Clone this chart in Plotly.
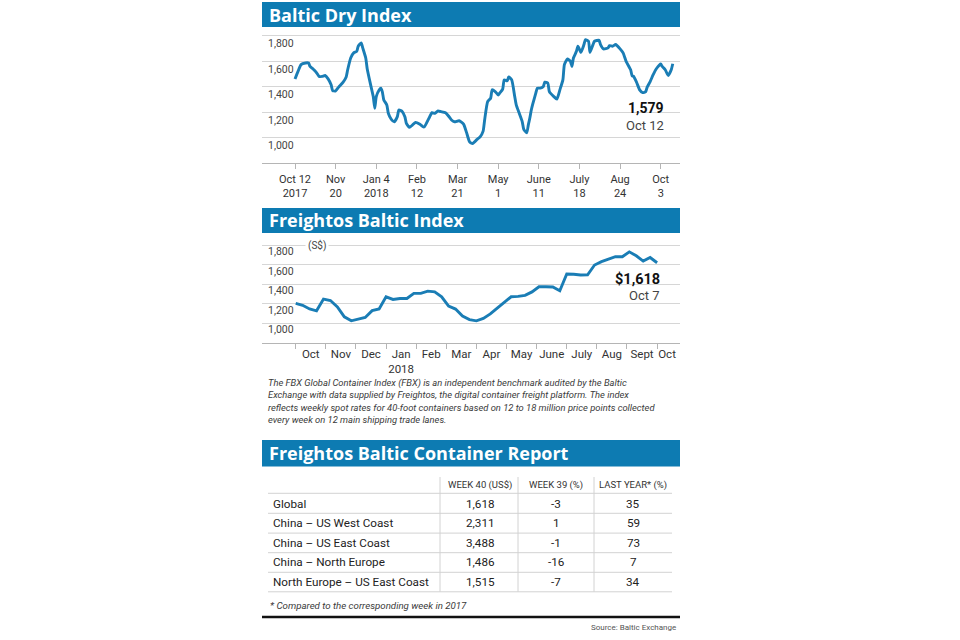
import plotly.graph_objects as go

W, H = 960, 640

# ---------------- Data ----------------
# Baltic Dry Index: trading-day index (0 = Oct 12 2017) and index value
bdi_day = [0, 2, 4, 7, 9, 10, 12, 14, 16, 18, 20, 22, 24, 25, 27, 29, 32, 34, 35, 37,
           39, 41, 42, 44, 45, 47, 48, 50, 52, 53, 54, 56, 57, 58, 59, 61, 62, 64, 66, 68,
           69, 71, 73, 74, 76, 78, 80, 83, 85, 86, 89, 91, 93, 95, 97, 100, 102, 104, 106, 109,
           112, 114, 116, 118, 121, 123, 125, 126, 128, 130, 131, 133, 135, 136, 138, 139, 141, 142, 144, 146,
           147, 149, 151, 152, 154, 155, 156, 157, 158, 160, 161, 163, 165, 166, 168, 169, 172, 174, 176, 178,
           179, 181, 183, 184, 185, 187, 188, 190, 192, 193, 195, 196, 198, 199, 202, 203, 205, 208, 209, 211,
           213, 214, 216, 218, 220, 223, 224, 225, 227, 229, 231, 233, 234, 236, 238, 240, 243, 244, 246, 248,
           250, 251]
bdi_value = [1459, 1519, 1572, 1585, 1585, 1558, 1538, 1514, 1480, 1480, 1487, 1461, 1414, 1369, 1367, 1396, 1435, 1475, 1532, 1624,
             1664, 1676, 1716, 1742, 1703, 1624, 1538, 1427, 1322, 1231, 1322, 1375, 1388, 1361, 1296, 1257, 1191, 1144, 1125, 1165,
             1217, 1209, 1165, 1113, 1081, 1099, 1120, 1105, 1086, 1086, 1152, 1196, 1191, 1209, 1204, 1196, 1170, 1139, 1125, 1133,
             1107, 1040, 968, 955, 987, 1007, 1052, 1139, 1283, 1309, 1375, 1361, 1335, 1349, 1380, 1453, 1446, 1475, 1453, 1322,
             1257, 1191, 1125, 1065, 1039, 1099, 1152, 1217, 1265, 1349, 1388, 1388, 1401, 1435, 1427, 1361, 1322, 1302, 1375, 1453,
             1572, 1617, 1598, 1558, 1624, 1676, 1716, 1668, 1729, 1768, 1755, 1668, 1729, 1755, 1763, 1729, 1695, 1703, 1721, 1716,
             1729, 1721, 1695, 1664, 1598, 1532, 1485, 1480, 1432, 1375, 1353, 1361, 1396, 1440, 1493, 1538, 1577, 1558, 1532, 1487,
             1532, 1579]
bdi_tick_day = [0, 27, 54, 81, 108, 135, 162, 189, 216, 243]
bdi_tick_text = ["Oct 12<br>2017", "Nov<br>20", "Jan 4<br>2018", "Feb<br>12", "Mar<br>21",
                 "May<br>1", "June<br>11", "July<br>18", "Aug<br>24", "Oct<br>3"]

# Freightos Baltic Index: weekly values, Oct 2017 - Oct 7 2018
fbx_value = [1202, 1183, 1145, 1126, 1246, 1232, 1167, 1065, 1024, 1040,
             1058, 1128, 1146, 1270, 1243, 1253, 1253, 1305, 1305, 1328,
             1321, 1270, 1174, 1144, 1072, 1036, 1024, 1048, 1095, 1155,
             1215, 1270, 1274, 1285, 1320, 1372, 1372, 1370, 1331, 1503,
             1500, 1493, 1495, 1595, 1629, 1654, 1680, 1680, 1730, 1690,
             1635, 1672, 1618]
fbx_month_text = ["Oct", "Nov", "Dec", "Jan<br>2018", "Feb", "Mar", "Apr", "May",
                  "June", "July", "Aug", "Sept", "Oct"]

y_ticks = [1000, 1200, 1400, 1600, 1800]

# Container report table
table_headers = ["WEEK 40 (US$)", "WEEK 39 (%)", "LAST YEAR* (%)"]
routes = ["Global", "China – US West Coast", "China – US East Coast",
          "China – North Europe", "North Europe – US East Coast"]
week40 = [1618, 2311, 3488, 1486, 1515]
week39 = [-3, 1, -1, -16, -7]
last_year = [35, 59, 73, 7, 34]

description = ["The FBX Global Container Index (FBX) is an independent benchmark audited by the Baltic",
               "Exchange with data supplied by Freightos, the digital container freight platform. The index",
               "reflects weekly spot rates for 40-foot containers based on 12 to 18 million price points collected",
               "every week on 12 main shipping trade lanes."]

# ---------------- Styling ----------------
BLUE_BAR = "#0d7bb2"
LINE = "#1a7db5"
GRID = "#d6d6d6"
AXIS = "#b5b5b5"
TXT = "#333333"
SANS = "Roboto, Liberation Sans, sans-serif"
HEAD = "Open Sans, Liberation Sans, sans-serif"

def X(px):
    return px / W

def Y(py):
    return 1 - py / H

L, R = 262, 680

# BDI geometry
bdi_bot, bdi_1800, bdi_top = 163.3, 35.5, 29
bdi_scale = (bdi_bot - bdi_1800) / 1000.0
bdi_ymax = 800 + (bdi_bot - bdi_top) / bdi_scale
bdi_x0px, bdi_pxday = 295.0, 1.505

# FBX geometry
fbx_bot, fbx_1800, fbx_top = 342.7, 245.0, 238
fbx_scale = (fbx_bot - fbx_1800) / 1000.0
fbx_ymax = 800 + (fbx_bot - fbx_top) / fbx_scale
fbx_x0px, fbx_pxweek = 295.7, 6.95
wpm = 52 / 12.0
fbx_weeks = list(range(len(fbx_value)))
month_bounds = [k * wpm for k in range(13)]
month_label_pos = [(k + 0.5) * wpm for k in range(12)] + [12.33 * wpm]

fig = go.Figure()

fig.add_trace(go.Scatter(x=bdi_day, y=bdi_value, mode="lines",
                         line=dict(color=LINE, width=2.9, shape="spline", smoothing=0.5),
                         xaxis="x", yaxis="y", hoverinfo="skip", showlegend=False))
fig.add_trace(go.Scatter(x=fbx_weeks, y=fbx_value, mode="lines",
                         line=dict(color=LINE, width=2.9),
                         xaxis="x2", yaxis="y2", hoverinfo="skip", showlegend=False))

ytick_common = dict(tickvals=y_ticks, showticklabels=False,
                    showgrid=True, gridcolor=GRID, gridwidth=1.3, zeroline=False,
                    showline=False, ticks="", fixedrange=True)

fig.update_layout(
    width=W, height=H, margin=dict(l=0, r=0, t=0, b=0),
    paper_bgcolor="white", plot_bgcolor="white", showlegend=False,
    xaxis=dict(domain=[X(L), X(R)], anchor="y",
               range=[(L - bdi_x0px) / bdi_pxday, (R - bdi_x0px) / bdi_pxday],
               tickvals=bdi_tick_day, ticktext=bdi_tick_text,
               ticks="outside", ticklen=5, tickcolor=AXIS, tickwidth=1.2,
               showline=True, linecolor=AXIS, linewidth=1.3, showgrid=False, zeroline=False,
               tickfont=dict(family=SANS, size=11, color=TXT), fixedrange=True),
    yaxis=dict(domain=[Y(bdi_bot), Y(bdi_top)], anchor="x", range=[800, bdi_ymax], **ytick_common),
    xaxis2=dict(domain=[X(L), X(R)], anchor="y2",
                range=[(L - fbx_x0px) / fbx_pxweek, (R - fbx_x0px) / fbx_pxweek],
                tickvals=month_label_pos, ticktext=fbx_month_text, ticks="",
                minor=dict(tickmode="array", tickvals=month_bounds, ticks="outside",
                           ticklen=5, tickcolor=AXIS, tickwidth=1.2, showgrid=False),
                showline=True, linecolor=AXIS, linewidth=1.3, showgrid=False, zeroline=False,
                tickfont=dict(family=SANS, size=11.5, color=TXT), fixedrange=True),
    yaxis2=dict(domain=[Y(fbx_bot), Y(fbx_top)], anchor="x2", range=[800, fbx_ymax], **ytick_common),
)

shapes = []
annotations = []

# y-axis labels, hanging just below their gridlines
for yref, shift in (("y", -8), ("y2", -6.5)):
    for v in y_ticks:
        annotations.append(dict(xref="paper", yref=yref, x=X(266), y=v, yshift=shift,
                                xanchor="left", yanchor="middle", showarrow=False,
                                text=f"{v:,}", font=dict(family=SANS, size=10.5, color="#444")))

def title_bar(y0, y1, text):
    shapes.append(dict(type="rect", xref="paper", yref="paper", x0=X(L), x1=X(R),
                       y0=Y(y1), y1=Y(y0), fillcolor=BLUE_BAR, line=dict(width=0), layer="below"))
    annotations.append(dict(xref="paper", yref="paper", x=X(267), y=Y((y0 + y1) / 2),
                            xanchor="left", yanchor="middle", showarrow=False,
                            text=f"<b>{text}</b>",
                            font=dict(family=HEAD, size=18, color="white")))

title_bar(2, 27, "Baltic Dry Index")
title_bar(208, 233, "Freightos Baltic Index")
title_bar(440, 466.5, "Freightos Baltic Container Report")

# Last-value callouts
annotations.append(dict(xref="paper", yref="paper", x=X(666), y=Y(108), xanchor="right",
                        yanchor="middle", showarrow=False, text=f"<b>{bdi_value[-1]:,}</b>",
                        font=dict(family=SANS, size=14, color="#111")))
annotations.append(dict(xref="paper", yref="paper", x=X(666), y=Y(125), xanchor="right",
                        yanchor="middle", showarrow=False, text="Oct 12",
                        font=dict(family=SANS, size=13, color="#444")))
annotations.append(dict(xref="paper", yref="paper", x=X(662), y=Y(279), xanchor="right",
                        yanchor="middle", showarrow=False, text=f"<b>${fbx_value[-1]:,}</b>",
                        font=dict(family=SANS, size=14.5, color="#111")))
annotations.append(dict(xref="paper", yref="paper", x=X(662), y=Y(295), xanchor="right",
                        yanchor="middle", showarrow=False, text="Oct 7",
                        font=dict(family=SANS, size=13, color="#444")))
annotations.append(dict(xref="paper", yref="paper", x=X(317), y=Y(245), xanchor="center",
                        yanchor="middle", showarrow=False, text="(S$)", bgcolor="white",
                        borderpad=2, font=dict(family=SANS, size=10, color="#444")))

# Description
for i, line in enumerate(description):
    annotations.append(dict(xref="paper", yref="paper", x=X(266), y=Y(382.5 + i * 12.4),
                            xanchor="left", yanchor="middle", showarrow=False,
                            text=f"<i>{line}</i>",
                            font=dict(family=SANS, size=9.4, color="#3a3a3a")))

# Table
col_x = [480, 556, 633]
sep_x = [440, 518, 594]
row_y = [503.5, 523.2, 542.8, 562.4, 582.2]
line_y = [493.3, 513.3, 533.1, 552.7, 572.3, 591.8]
for yy in line_y:
    shapes.append(dict(type="line", xref="paper", yref="paper", x0=X(268), x1=X(672),
                       y0=Y(yy), y1=Y(yy), line=dict(color="#d2d2d2", width=1)))
for xx in sep_x:
    shapes.append(dict(type="line", xref="paper", yref="paper", x0=X(xx), x1=X(xx),
                       y0=Y(477), y1=Y(591.8), line=dict(color="#d2d2d2", width=1)))
for cx, hdr in zip(col_x, table_headers):
    annotations.append(dict(xref="paper", yref="paper", x=X(cx), y=Y(485), xanchor="center",
                            yanchor="middle", showarrow=False, text=hdr,
                            font=dict(family=SANS, size=9.5, color=TXT)))
for i, ry in enumerate(row_y):
    annotations.append(dict(xref="paper", yref="paper", x=X(271), y=Y(ry), xanchor="left",
                            yanchor="middle", showarrow=False, text=routes[i],
                            font=dict(family=SANS, size=11.7, color="#222")))
    for cx, val in zip(col_x, [f"{week40[i]:,}", f"{week39[i]}", f"{last_year[i]}"]):
        annotations.append(dict(xref="paper", yref="paper", x=X(cx), y=Y(ry), xanchor="center",
                                yanchor="middle", showarrow=False, text=val,
                                font=dict(family=SANS, size=11.7, color="#222")))

annotations.append(dict(xref="paper", yref="paper", x=X(268), y=Y(605), xanchor="left",
                        yanchor="middle", showarrow=False,
                        text="<i>* Compared to the corresponding week in 2017</i>",
                        font=dict(family=SANS, size=9.7, color="#3a3a3a")))
shapes.append(dict(type="line", xref="paper", yref="paper", x0=X(L), x1=X(R),
                   y0=Y(617), y1=Y(617), line=dict(color="#111", width=2.5)))
annotations.append(dict(xref="paper", yref="paper", x=X(678), y=Y(627), xanchor="right",
                        yanchor="middle", showarrow=False, text="Source: Baltic Exchange",
                        font=dict(family=SANS, size=8, color="#555")))

fig.update_layout(shapes=shapes, annotations=annotations)
fig.write_html("out.html", config={"displayModeBar": False},
               post_script="document.body.style.margin='0px';")
